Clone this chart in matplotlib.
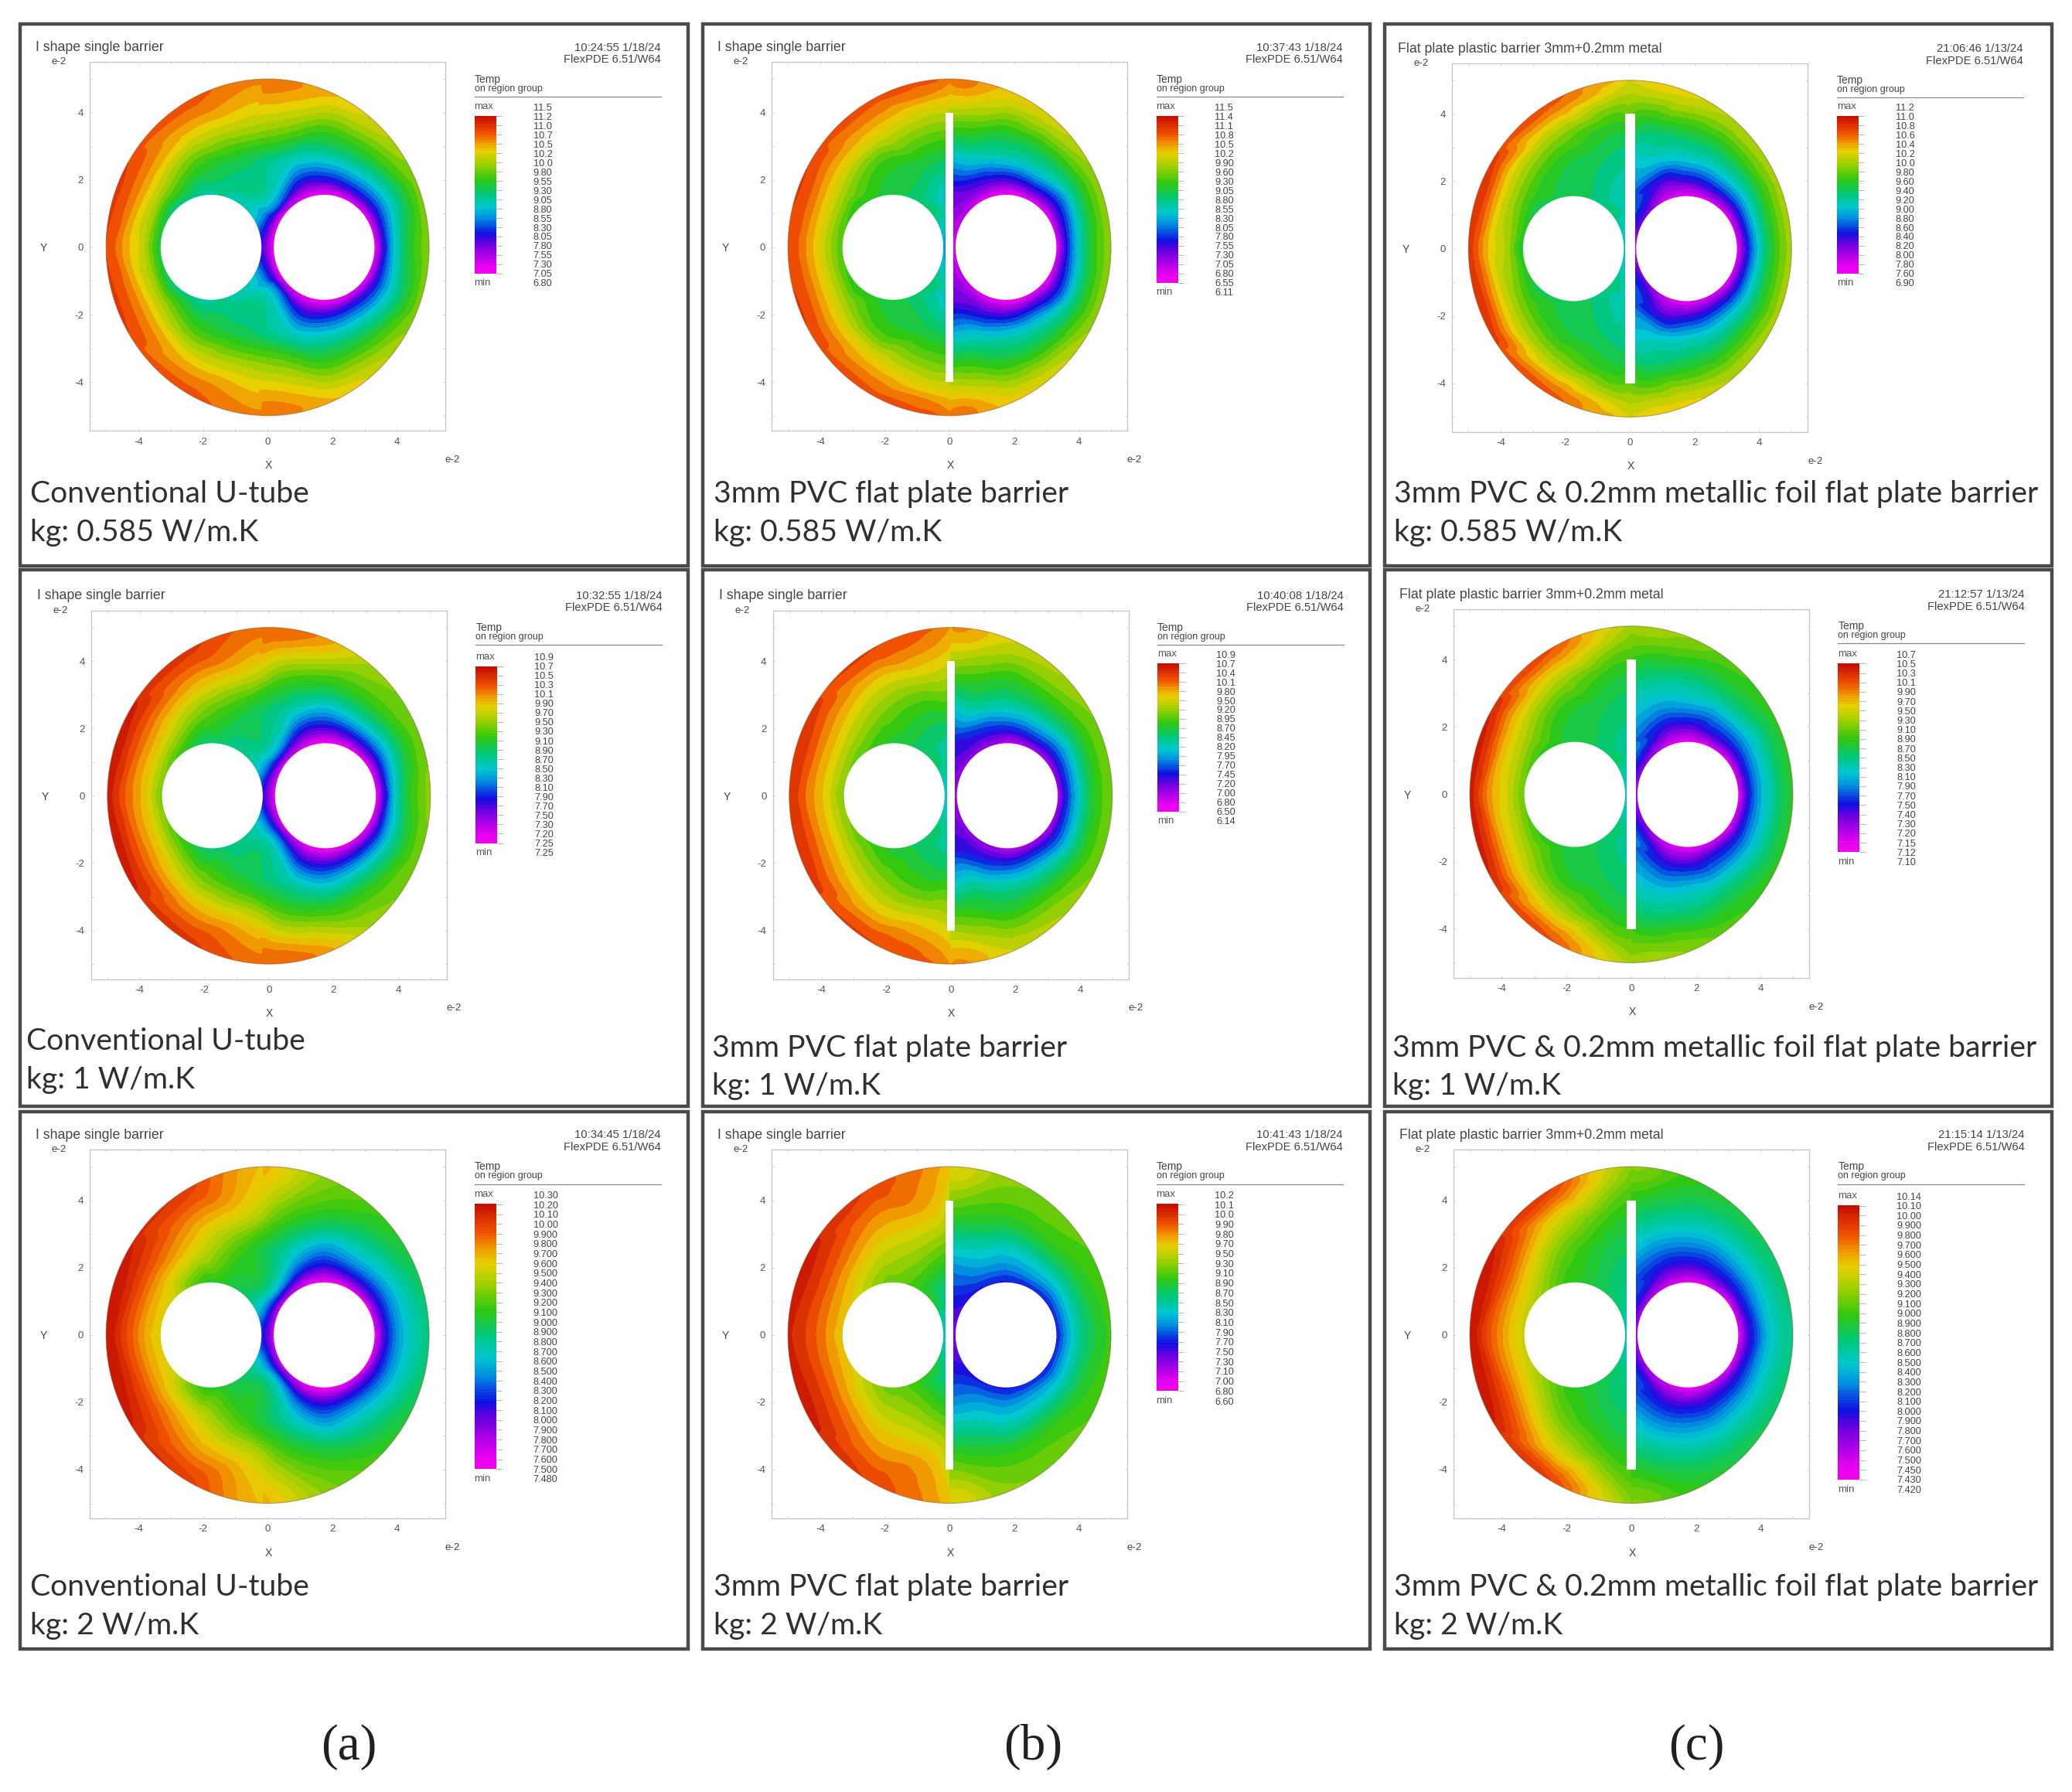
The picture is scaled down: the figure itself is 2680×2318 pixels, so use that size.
import numpy as np
import matplotlib
matplotlib.use("Agg")
import matplotlib.pyplot as plt
import matplotlib.tri as mtri
from matplotlib.colors import LinearSegmentedColormap
from matplotlib.patches import Circle, Rectangle, Wedge
from matplotlib.ticker import MultipleLocator

# picture coordinates below are on a 1568 x 1356 grid, scaled up on save
GRID_W, GRID_H = 1568, 1356
TUBE_X, TUBE_R, BORE_R = 1.75, 1.56, 5.0
BARRIER_H = 4.0

# colour stops of the FlexPDE legend, bottom to top
STOP_POS = [0.0, 0.04, 0.18, 0.25, 0.35, 0.42, 0.50, 0.60, 0.70, 0.78, 0.83, 0.90, 1.0]
STOP_COL = ["#f000f0", "#e800f0", "#7000e0", "#1010e0", "#0090e0", "#00c8d0", "#00c880",
            "#30c810", "#a0d000", "#e8d000", "#f0a000", "#f05000", "#c81000"]

# rows: ray angle from the tube centre, columns: fraction of the way from tube wall to the edge
COLD_ANGLES = [0, 35, 70, 90, 110, 145, 180]
COLD_FRACS = [0, 0.15, 0.35, 0.6, 1]
HOT_ANGLES = [0, 45, 80, 110, 145, 180]
HOT_FRACS = [0, 0.35, 0.65, 1]

COLD_A1 = [[.02, .20, .40, .55, .67], [.02, .20, .36, .50, .66], [.02, .24, .42, .58, .76], [.02, .24, .44, .60, .82],
           [.02, .25, .45, .66, .86], [.02, .08, .18, .30, .40], [.02, .03, .05, .08, .13]]
HOT_A1 = [[.55, .74, .82, .92], [.50, .72, .84, .92], [.47, .62, .78, .90],
          [.47, .55, .72, .86], [.42, .40, .38, .40], [.20, .18, .16, .13]]
COLD_A2 = [[.02, .20, .42, .57, .68], [.02, .20, .38, .53, .66], [.02, .22, .42, .58, .70], [.02, .22, .42, .60, .84],
           [.03, .25, .46, .62, .88], [.03, .10, .20, .30, .42], [.02, .04, .07, .10, .13]]
HOT_A2 = [[.65, .80, .88, .98], [.62, .78, .88, .98], [.52, .68, .82, .94],
          [.50, .58, .74, .88], [.45, .44, .42, .42], [.22, .20, .17, .13]]
COLD_A3 = [[.02, .18, .32, .42, .50], [.02, .20, .33, .44, .54], [.02, .22, .38, .50, .62], [.02, .22, .38, .56, .68],
           [.03, .28, .46, .62, .80], [.04, .12, .22, .32, .45], [.02, .05, .10, .14, .18]]
HOT_A3 = [[.76, .84, .92, 1.0], [.74, .83, .92, .98], [.60, .76, .84, .93],
          [.56, .62, .74, .80], [.48, .46, .45, .45], [.26, .24, .20, .18]]

COLD_B1 = [[.02, .20, .38, .55, .68], [.02, .18, .33, .52, .68], [.02, .22, .42, .56, .76], [.02, .22, .44, .58, .80],
           [.03, .22, .43, .60, .84], [.08, .10, .12, .14, .16], [.02, .03, .05, .07, .08]]
HOT_B1 = [[.62, .74, .84, .92], [.58, .72, .83, .92], [.56, .62, .78, .90],
          [.53, .57, .68, .84], [.50, .48, .46, .40], [.38, .36, .34, .32]]
COLD_B2 = [[.10, .25, .40, .55, .66], [.10, .24, .38, .54, .66], [.10, .27, .44, .58, .72], [.10, .27, .46, .58, .76],
           [.12, .27, .47, .60, .82], [.15, .16, .18, .20, .22], [.10, .10, .12, .13, .14]]
HOT_B2 = [[.66, .78, .86, .95], [.64, .76, .85, .94], [.58, .68, .78, .92],
          [.54, .60, .74, .82], [.52, .50, .48, .46], [.44, .42, .40, .38]]
COLD_B3 = [[.25, .34, .45, .53, .60], [.25, .34, .45, .55, .62], [.25, .36, .46, .58, .66], [.25, .35, .45, .58, .68],
           [.25, .36, .46, .58, .76], [.22, .23, .24, .25, .27], [.15, .15, .16, .17, .18]]
HOT_B3 = [[.78, .86, .92, .97], [.76, .84, .92, .98], [.66, .76, .84, .92],
          [.62, .70, .78, .78], [.56, .53, .50, .48], [.46, .44, .42, .40]]

COLD_C1 = [[.03, .20, .38, .55, .70], [.03, .20, .38, .54, .70], [.04, .22, .40, .54, .72], [.04, .22, .42, .55, .78],
           [.05, .20, .42, .52, .74], [.16, .20, .24, .28, .32], [.08, .10, .12, .14, .16]]
HOT_C1 = [[.56, .72, .80, .94], [.54, .66, .78, .94], [.54, .58, .70, .90],
          [.52, .52, .58, .74], [.50, .48, .46, .42], [.40, .38, .36, .34]]
COLD_C2 = [[.03, .20, .35, .46, .58], [.03, .20, .34, .46, .58], [.04, .22, .35, .50, .62], [.04, .20, .38, .50, .68],
           [.05, .22, .38, .50, .68], [.14, .18, .22, .28, .34], [.08, .10, .12, .14, .16]]
HOT_C2 = [[.64, .76, .84, .98], [.60, .72, .82, .96], [.56, .60, .72, .90],
          [.54, .54, .58, .68], [.52, .50, .48, .46], [.42, .40, .38, .36]]
COLD_C3 = [[.03, .18, .30, .42, .50], [.03, .20, .32, .43, .52], [.04, .20, .32, .44, .56], [.04, .20, .34, .47, .60],
           [.06, .22, .36, .50, .66], [.12, .15, .20, .26, .30], [.08, .10, .12, .14, .16]]
HOT_C3 = [[.74, .82, .90, 1.0], [.70, .80, .90, .98], [.60, .66, .76, .92],
          [.56, .56, .60, .66], [.52, .50, .49, .48], [.46, .44, .42, .40]]

# legend rows as printed (small and blurred in the source, so partly estimated)
LEG_A1 = ["11.5", "11.2", "11.0", "10.7", "10.5", "10.2", "10.0", "9.80", "9.55", "9.30",
          "9.05", "8.80", "8.55", "8.30", "8.05", "7.80", "7.55", "7.30", "7.05", "6.80"]
LEG_B1 = ["11.5", "11.4", "11.1", "10.8", "10.5", "10.2", "9.90", "9.60", "9.30", "9.05", "8.80",
          "8.55", "8.30", "8.05", "7.80", "7.55", "7.30", "7.05", "6.80", "6.55", "6.11"]
LEG_C1 = ["11.2", "11.0", "10.8", "10.6", "10.4", "10.2", "10.0", "9.80", "9.60", "9.40",
          "9.20", "9.00", "8.80", "8.60", "8.40", "8.20", "8.00", "7.80", "7.60", "6.90"]
LEG_A2 = ["10.9", "10.7", "10.5", "10.3", "10.1", "9.90", "9.70", "9.50", "9.30", "9.10", "8.90",
          "8.70", "8.50", "8.30", "8.10", "7.90", "7.70", "7.50", "7.30", "7.20", "7.25", "7.25"]
LEG_B2 = ["10.9", "10.7", "10.4", "10.1", "9.80", "9.50", "9.20", "8.95", "8.70", "8.45",
          "8.20", "7.95", "7.70", "7.45", "7.20", "7.00", "6.80", "6.50", "6.14"]
LEG_C2 = ["10.7", "10.5", "10.3", "10.1", "9.90", "9.70", "9.50", "9.30", "9.10", "8.90", "8.70", "8.50",
          "8.30", "8.10", "7.90", "7.70", "7.50", "7.40", "7.30", "7.20", "7.15", "7.12", "7.10"]
LEG_A3 = ["10.30", "10.20", "10.10", "10.00", "9.900", "9.800", "9.700", "9.600", "9.500", "9.400",
          "9.300", "9.200", "9.100", "9.000", "8.900", "8.800", "8.700", "8.600", "8.500", "8.400",
          "8.300", "8.200", "8.100", "8.000", "7.900", "7.800", "7.700", "7.600", "7.500", "7.480"]
LEG_B3 = ["10.2", "10.1", "10.0", "9.90", "9.80", "9.70", "9.50", "9.30", "9.10", "8.90", "8.70",
          "8.50", "8.30", "8.10", "7.90", "7.70", "7.50", "7.30", "7.10", "7.00", "6.80", "6.60"]
LEG_C3 = ["10.14", "10.10", "10.00", "9.900", "9.800", "9.700", "9.600", "9.500", "9.400", "9.300", "9.200",
          "9.100", "9.000", "8.900", "8.800", "8.700", "8.600", "8.500", "8.400", "8.300", "8.200", "8.100",
          "8.000", "7.900", "7.800", "7.700", "7.600", "7.500", "7.450", "7.430", "7.420"]

TITLES = ["I shape single barrier", "I shape single barrier", "Flat plate plastic barrier 3mm+0.2mm metal"]
STAMPS = [["10:24:55 1/18/24", "10:37:43 1/18/24", "21:06:46 1/13/24"],
          ["10:32:55 1/18/24", "10:40:08 1/18/24", "21:12:57 1/13/24"],
          ["10:34:45 1/18/24", "10:41:43 1/18/24", "21:15:14 1/13/24"]]
CAPTIONS = ["Conventional U-tube", "3mm PVC flat plate barrier",
            "3mm PVC & 0.2mm metallic foil flat plate barrier"]
KG_LABELS = ["kg: 0.585 W/m.K", "kg: 1 W/m.K", "kg: 2 W/m.K"]
COLUMN_LABELS = ["(a)", "(b)", "(c)"]

# layout on the grid
FRAME_X = [(15, 521), (532, 1037), (1048, 1553)]
FRAME_Y = [(18, 428), (431, 837), (841, 1248)]
ZERO_X = [[203, 719, 1234], [204, 720, 1235], [203, 719, 1235]]
ZERO_Y = [[188, 188, 189], [603, 603, 602], [1011, 1011, 1011]]
CAPTION_X = [[23, 540, 1055], [20, 539, 1054], [23, 540, 1055]]
CAPTION_Y = [[374, 374, 374], [788, 793, 793], [1201, 1201, 1201]]
LABEL_X = [264, 782, 1284]
LEG_TOP = [[81, 81, 81], [497, 495, 495], [904, 904, 905]]
LEG_BOT = [[214, 221, 214], [645, 621, 652], [1119, 1060, 1127]]

COLD = [[COLD_A1, COLD_B1, COLD_C1], [COLD_A2, COLD_B2, COLD_C2], [COLD_A3, COLD_B3, COLD_C3]]
HOT = [[HOT_A1, HOT_B1, HOT_C1], [HOT_A2, HOT_B2, HOT_C2], [HOT_A3, HOT_B3, HOT_C3]]
LEGENDS = [[LEG_A1, LEG_B1, LEG_C1], [LEG_A2, LEG_B2, LEG_C2], [LEG_A3, LEG_B3, LEG_C3]]

FONT_PLOT = "Liberation Sans"
GREY = "#555555"
cmap = LinearSegmentedColormap.from_list("flexpde", list(zip(STOP_POS, STOP_COL)), N=256)


def grid_axes(fig, left, top, right, bottom):
    return fig.add_axes([left / GRID_W, 1 - bottom / GRID_H, (right - left) / GRID_W, (bottom - top) / GRID_H])


def ray_end(cx, dx, dy):
    # distance along a ray from the tube centre to the bore edge or the x=0 line
    b = cx * dx
    end = -b + np.sqrt(b * b - (cx * cx - BORE_R ** 2))
    if cx * dx < 0:
        end = min(end, -cx / dx)
    return end


def ray_samples(side, angles, fracs, table, merged):
    xs, ys, zs = [], [], []
    cx = side * TUBE_X
    for angle, row in zip(angles, table):
        for flip in (1, -1):
            if flip == -1 and angle in (0, 180):
                continue
            a = np.radians(angle)
            dx, dy = side * np.cos(a), flip * np.sin(a)
            end = ray_end(cx, dx, dy)
            radii = [TUBE_R + f * (end - TUBE_R) for f in fracs]
            values = list(row)
            if not (merged and angle >= 145):
                radii.append(end + 0.4)
                values.append(row[-1])
            for r, v in zip(radii, values):
                xs.append(cx + r * dx)
                ys.append(r * dy)
                zs.append(v)
    return xs, ys, zs


def fill_field(ax, xs, ys, zs, levels, clip):
    pts, keep = np.unique(np.round(np.c_[xs, ys], 3), axis=0, return_index=True)
    tri = mtri.Triangulation(pts[:, 0], pts[:, 1])
    tri.set_mask(mtri.TriAnalyzer(tri).get_flat_tri_mask(0.01))
    zs = np.array(zs)[keep]
    interp = mtri.CubicTriInterpolator(tri, zs, kind="geom")
    fine_tri, fine_z = mtri.UniformTriRefiner(tri).refine_field(zs, interp, subdiv=3)
    fine_z = np.clip(np.ma.filled(fine_z, 0.5), 0, 1)
    cs = ax.tricontourf(fine_tri, fine_z, levels=levels, cmap=cmap, vmin=0, vmax=1)
    clip.set_transform(ax.transData)
    cs.set_clip_path(clip)


def draw_field(fig, row, col):
    x0, y0 = ZERO_X[row][col], ZERO_Y[row][col]
    ax = grid_axes(fig, x0 - 135, y0 - 141, x0 + 134, y0 + 138)
    ax.set_xlim(-5.5, 5.5)
    ax.set_ylim(-5.45, 5.5)
    levels = np.linspace(-0.001, 1.001, len(LEGENDS[row][col]) + 6)
    merged = col == 0
    hx, hy, hz = ray_samples(-1, HOT_ANGLES, HOT_FRACS, HOT[row][col], merged)
    cx_, cy_, cz = ray_samples(1, COLD_ANGLES, COLD_FRACS, COLD[row][col], merged)
    if merged:
        # no barrier here, one field over the whole disc
        fill_field(ax, hx + cx_, hy + cy_, hz + cz, levels, Circle((0, 0), BORE_R))
    else:
        fill_field(ax, hx, hy, hz, levels, Wedge((0, 0), BORE_R, 88, 272))
        fill_field(ax, cx_, cy_, cz, levels, Wedge((0, 0), BORE_R, -90, 90))
    ax.add_patch(Circle((0, 0), BORE_R, fill=False, ec="#806040", lw=0.8, alpha=0.55, zorder=3))
    for cx in (-TUBE_X, TUBE_X):
        ax.add_patch(Circle((cx, 0), TUBE_R, fc="white", ec="none", zorder=4))
    if col > 0:
        half = 0.12 if col == 1 else 0.15
        ax.add_patch(Rectangle((-half, -BARRIER_H), 2 * half, 2 * BARRIER_H, fc="white", ec="none", zorder=5))
    for spine in ax.spines.values():
        spine.set_color("#c4c4c4")
        spine.set_linewidth(0.9)
    ax.set_xticks([-4, -2, 0, 2, 4])
    ax.set_yticks([-4, -2, 0, 2, 4])
    ax.set_xticklabels(["-4", "-2", "0", "2", "4"], fontsize=9.5, color=GREY, family=FONT_PLOT)
    ax.set_yticklabels(["-4", "-2", "0", "2", "4"], fontsize=9.5, color=GREY, family=FONT_PLOT)
    ax.xaxis.set_minor_locator(MultipleLocator(1))
    ax.yaxis.set_minor_locator(MultipleLocator(1))
    ax.tick_params(which="both", direction="in", length=2.5, width=0.5, color="#c4c4c4", top=True, right=True, pad=6)


def draw_legend(fig, row, col):
    x0 = ZERO_X[row][col]
    labels = LEGENDS[row][col]
    n = len(labels)
    ax = grid_axes(fig, x0 + 156, LEG_TOP[row][col], x0 + 172, LEG_BOT[row][col])
    ramp = np.linspace(1, 0, 3 * n).reshape(-1, 1)
    ax.imshow(ramp, cmap=cmap, vmin=0, vmax=1, aspect="auto", extent=(0, 1, n - 2, 1), interpolation="nearest")
    ax.set_xlim(0, 1)
    ax.set_ylim(n - 1, 0)
    ax.set_xticks([])
    ax.yaxis.tick_right()
    ax.set_yticks(range(n))
    ax.set_yticklabels(labels, fontsize=9.2, color="#444444", family=FONT_PLOT)
    ax.tick_params(axis="y", length=6, width=0.6, color="#aaaaaa", pad=29)
    ticks = ax.yaxis.get_major_ticks()
    ticks[0].tick2line.set_visible(False)
    ticks[-1].tick2line.set_visible(False)
    for spine in ax.spines.values():
        spine.set_visible(False)
    ax.text(0, 0, "max", fontsize=9.5, color=GREY, family=FONT_PLOT, va="center", ha="left")
    ax.text(0, n - 1, "min", fontsize=9.5, color=GREY, family=FONT_PLOT, va="center", ha="left")


def draw_texts(page, row, col):
    x0, y0 = ZERO_X[row][col], ZERO_Y[row][col]
    left, right = FRAME_X[col]
    top, bottom = FRAME_Y[row]
    page.add_patch(Rectangle((left, top), right - left, bottom - top, fc="white", ec="#4a4a4a", lw=3.2))
    small = dict(family=FONT_PLOT, color="#444444", va="center")
    page.text(x0 - 176, y0 - 152, TITLES[col], fontsize=12.8, **small)
    page.text(x0 + 297, y0 - 152, STAMPS[row][col], fontsize=10.7, ha="right", **small)
    page.text(x0 + 297, y0 - 143, "FlexPDE 6.51/W64", fontsize=10.6, ha="right", **small)
    page.text(x0 - 164, y0 - 141, "e-2", fontsize=9.5, **small)
    page.text(x0 + 134, y0 + 160, "e-2", fontsize=9.5, **small)
    page.text(x0 - 170, y0, "Y", fontsize=10, ha="center", **small)
    page.text(x0, y0 + 164, "X", fontsize=10, ha="center", **small)
    page.text(x0 + 156, y0 - 128, "Temp", fontsize=10, **small)
    page.text(x0 + 156, y0 - 121, "on region group", fontsize=9, **small)
    page.plot([x0 + 156, x0 + 297], [y0 - 115, y0 - 115], color="#888888", lw=0.9)
    cx, cy = CAPTION_X[row][col], CAPTION_Y[row][col]
    page.text(cx, cy, CAPTIONS[col], family="Lato", fontsize=28.2, color="#303030", va="center")
    page.text(cx, cy + 29, KG_LABELS[row], family="Lato", fontsize=28.2, color="#303030", va="center")


def main():
    fig = plt.figure(figsize=(26.8, 23.18), dpi=100, facecolor="white")
    page = fig.add_axes([0, 0, 1, 1], zorder=-1)
    page.set_xlim(0, GRID_W)
    page.set_ylim(GRID_H, 0)
    page.axis("off")
    for row in range(3):
        for col in range(3):
            draw_texts(page, row, col)
            draw_field(fig, row, col)
            draw_legend(fig, row, col)
    page.set_xlim(0, GRID_W)
    page.set_ylim(GRID_H, 0)
    for col in range(3):
        page.text(LABEL_X[col], 1322, COLUMN_LABELS[col], family="Liberation Serif", fontsize=47,
                  color="#202020", ha="center", va="center")
    fig.savefig("out.png", dpi=100)
    plt.close(fig)


if __name__ == "__main__":
    main()
